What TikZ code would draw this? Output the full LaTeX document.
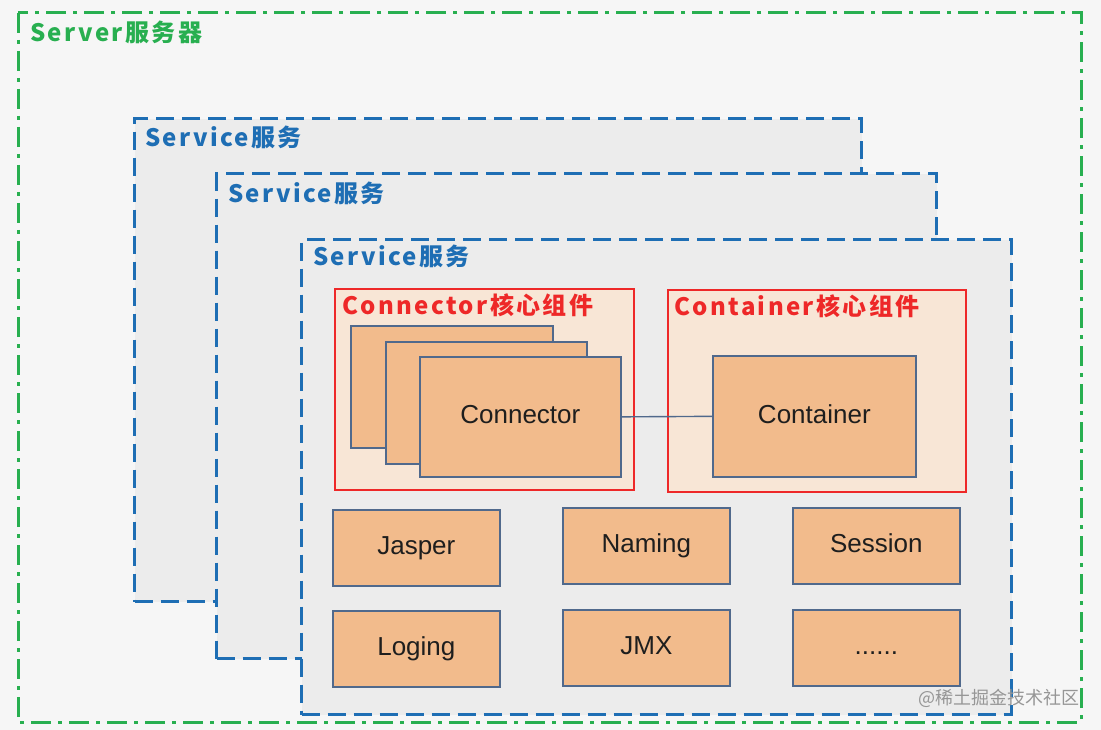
\documentclass[tikz,border=0pt]{standalone}
\usepackage{fontspec}
\setmainfont{Liberation Sans}
\newfontfamily\cjk{Noto Sans CJK SC}
\newfontfamily\lblfont{Noto Sans CJK SC}[LetterSpace=10]
\definecolor{bgc}{RGB}{246,246,246}
\definecolor{srvgreen}{RGB}{40,175,80}
\definecolor{svcblue}{RGB}{30,110,180}
\definecolor{svcfill}{RGB}{236,236,236}
\definecolor{corered}{RGB}{238,40,40}
\definecolor{corefill}{RGB}{248,230,214}
\definecolor{boxfill}{RGB}{242,187,140}
\definecolor{boxline}{RGB}{80,105,140}
\definecolor{boxtext}{RGB}{30,30,30}
\definecolor{wmgray}{RGB}{150,150,150}
\tikzset{
  server/.style={draw=srvgreen, line width=3pt, dash pattern=on 20pt off 7pt on 4pt off 7pt},
  service/.style={draw=svcblue, fill=svcfill, line width=3.2pt, dash pattern=on 18pt off 8pt},
  svclabel/.style={anchor=west, inner sep=0pt, text=svcblue, font=\lblfont\bfseries\fontsize{24}{24}\selectfont},
  core/.style={draw=corered, fill=corefill, line width=1.8pt},
  corelabel/.style={anchor=west, inner sep=0pt, text=corered, font=\lblfont\bfseries\fontsize{24}{24}\selectfont},
  comp/.style={draw=boxline, fill=boxfill, line width=1.7pt, anchor=north west, inner sep=0pt,
     text=boxtext, font=\fontsize{26}{26}\selectfont, text height=18.5pt, text depth=4.5pt},
  link/.style={draw=boxline, line width=1.4pt}
}
\begin{document}
\begin{tikzpicture}[x=1pt,y=-1pt]
\fill[bgc] (0,0) rectangle (1101,730);
\useasboundingbox (0,0) rectangle (1101,730);
% server
\draw[server] (18,13) rectangle (1081,722);
\node[anchor=west, inner sep=0pt, text=srvgreen, font=\lblfont\bfseries\fontsize{24}{24}\selectfont] (srvlbl) at (30,32) {Server服务器};
% services
\node[service, anchor=north west, minimum width=727pt, minimum height=483pt] (svc1) at (133,117) {};
\node[svclabel] (svc1lbl) at (145,137) {Service服务};
\node[service, anchor=north west, minimum width=720pt, minimum height=485pt] (svc2) at (215,172) {};
\node[svclabel] (svc2lbl) at (228,193) {Service服务};
\node[service, anchor=north west, minimum width=710pt, minimum height=475pt] (svc3) at (300,238) {};
\node[svclabel] (svc3lbl) at (313,256) {Service服务};
% core groups
\node[core, anchor=north west, minimum width=299pt, minimum height=201pt] (conngrp) at (334,288) {};
\node[corelabel] (conngrplbl) at (342,305) {Connector核心组件};
\node[core, anchor=north west, minimum width=298pt, minimum height=202pt] (contgrp) at (667,289) {};
\node[corelabel] (contgrplbl) at (674,306) {Container核心组件};
% connectors
\node[comp, minimum width=202pt, minimum height=122pt] (conn1) at (350,325) {};
\node[comp, minimum width=201pt, minimum height=122pt] (conn2) at (385,341) {};
\node[comp, minimum width=201pt, minimum height=120pt] (conn3) at (419,356) {Connector};
\node[comp, minimum width=203pt, minimum height=121pt] (cont) at (712,355) {Container};
\draw[link] (conn3.east) -- (cont.west);
% components
\node[comp, minimum width=167pt, minimum height=76pt] (jasper) at (332,509) {Jasper};
\node[comp, minimum width=167pt, minimum height=76pt] (naming) at (562,507) {Naming};
\node[comp, minimum width=167pt, minimum height=76pt] (session) at (792,507) {Session};
\node[comp, minimum width=167pt, minimum height=76pt] (loging) at (332,610) {Loging};
\node[comp, minimum width=167pt, minimum height=76pt] (jmx) at (562,609) {JMX};
\node[comp, minimum width=167pt, minimum height=76pt] (more) at (792,609) {......};
% watermark
\node[anchor=east, inner sep=0pt, text=wmgray, font=\cjk\fontsize{18}{18}\selectfont] (wm) at (1080,698) {@稀土掘金技术社区};
\end{tikzpicture}
\end{document}
